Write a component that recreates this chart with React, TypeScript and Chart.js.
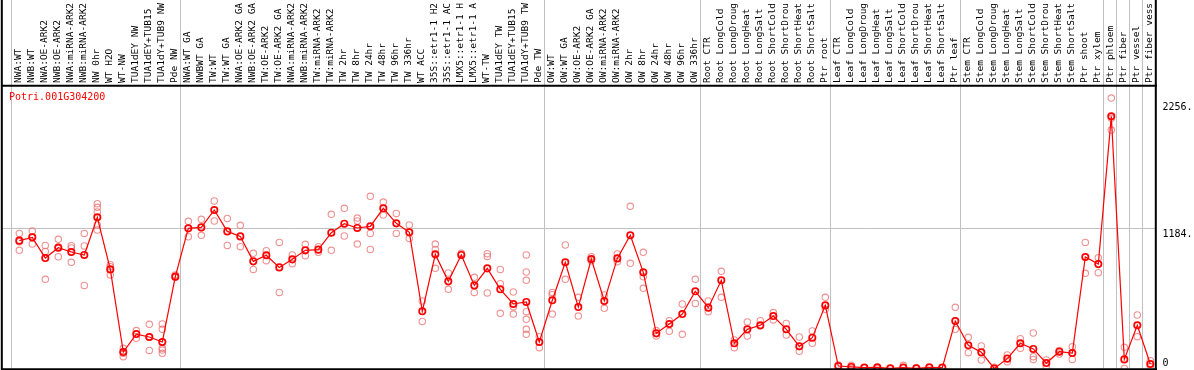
import { useEffect, useRef } from "react";
import { Chart, registerables } from "chart.js";

Chart.register(...registerables);

const geneTitle = "Potri.001G304200";

const categories = [
  "NWA:WT", "NWB:WT", "NWA:OE-ARK2", "NWB:OE-ARK2", "NWA:miRNA-ARK2", "NWB:miRNA-ARK2", "NW 0hr", "WT H2O", "WT-NW", "TUA1dEY NW", "TUA1dEY+TUB15", "TUA1dY+TUB9 NW", "Pde NW",
  "NWA:WT GA", "NWBWT GA", "TW:WT", "TW:WT GA", "NWA:OE-ARK2 GA", "NWB:OE-ARK2 GA", "TW:OE-ARK2", "TW:OE-ARK2 GA", "NWA:miRNA-ARK2", "NWB:miRNA-ARK2", "TW:miRNA-ARK2", "TW:miRNA-ARK2", "TW 2hr", "TW 8hr", "TW 24hr", "TW 48hr", "TW 96hr", "TW 336hr", "WT ACC", "35S::etr1-1 H2", "35S::etr1-1 AC", "LMX5::etr1-1 H", "LMX5::etr1-1 A", "WT-TW", "TUA1dEY TW", "TUA1dEY+TUB15", "TUA1dY+TUB9 TW", "Pde TW",
  "OW:WT", "OW:WT GA", "OW:OE-ARK2", "OW:OE-ARK2 GA", "OW:miRNA-ARK2", "OW:miRNA-ARK2", "OW 2hr", "OW 8hr", "OW 24hr", "OW 48hr", "OW 96hr", "OW 336hr",
  "Root CTR", "Root LongCold", "Root LongDroug", "Root LongHeat", "Root LongSalt", "Root ShortCold", "Root ShortDrou", "Root ShortHeat", "Root ShortSalt", "Ptr root",
  "Leaf CTR", "Leaf LongCold", "Leaf LongDroug", "Leaf LongHeat", "Leaf LongSalt", "Leaf ShortCold", "Leaf ShortDrou", "Leaf ShortHeat", "Leaf ShortSalt", "Ptr leaf",
  "Stem CTR", "Stem LongCold", "Stem LongDroug", "Stem LongHeat", "Stem LongSalt", "Stem ShortCold", "Stem ShortDrou", "Stem ShortHeat", "Stem ShortSalt", "Ptr shoot", "Ptr xylem",
  "Ptr phloem", "Ptr fiber", "Ptr vessel", "Ptr fiber vess",
];

const groupSizes = [13, 28, 12, 10, 10, 11, 1, 1, 1, 1];

const meanValues = [
  1080, 1108, 933, 1020, 984, 959, 1277, 837, 139, 291, 266, 224, 776,
  1184, 1192, 1339, 1158, 1116, 905, 956, 854, 922, 998, 1004, 1147, 1223, 1187, 1201, 1353, 1226, 1150, 483, 964, 736, 959, 702, 846, 669, 545, 562, 224,
  576, 897, 519, 925, 570, 930, 1125, 812, 297, 376, 460, 652,
  514, 745, 213, 331, 365, 443, 331, 187, 260, 533,
  21, 13, 7, 10, 1, 7, 1, 10, 7, 401,
  196, 137, 0, 83, 213, 165, 46, 142, 131, 942, 882,
  2130, 77, 365, 38,
];

const replicateValues = [
  [1141, 1071, 998], [1161, 1113, 1051], [1040, 989, 753], [1091, 1029, 944], [1037, 1018, 897], [1141, 1035, 702],
  [1392, 1361, 1322, 1212, 1170], [877, 860, 790], [170, 128, 100], [320, 255], [373, 266, 153], [376, 331, 170, 156, 128], [790, 770],
  [1243, 1113], [1260, 1125], [1415, 1246], [1268, 1040], [1209, 1029], [973, 837], [995, 911], [1065, 643], [959, 885], [1049, 953],
  [1029, 981], [1302, 998], [1353, 1119], [1271, 1246, 1051], [1454, 1141, 1006], [1406, 1296], [1310, 1141], [1212, 1099], [570, 398],
  [1051, 1006, 846], [807, 669], [973], [770, 643], [970, 947, 638], [837, 716, 466], [646, 522, 460], [959, 815, 745, 480, 415, 331, 289], [269, 176],
  [643, 624, 460], [1043, 753], [601, 443], [944, 911], [621, 508], [967, 902], [1370, 888], [981, 775, 677], [320, 274], [404, 314], [545, 289], [753, 550],
  [570, 480], [821, 601], [241, 176], [393, 274], [404, 359], [472, 410], [381, 283], [266, 145], [317, 213], [601, 500],
  [30], [27, 1], [7], [1], [0], [27], [7], [7], [7], [517, 331],
  [263, 134], [190, 72], [0, 10], [114, 58], [252, 170], [300, 100, 77], [72, 15], [151, 122], [184, 77], [1065, 804], [936, 809],
  [2284, 2113, 2014], [179, 0], [452, 269], [66, 15],
];

const yTickValues = [0, 1184, 2256];
const yTickLabels = ["0", "1184.", "2256."];
const yGridValues = [1184];
const yMax = 2382;
const xMin = -1.331;
const xMax = 87.438;

const MONO = '"DejaVu Sans Mono", monospace';

export default function App() {
  const ref = useRef<HTMLCanvasElement>(null);

  useEffect(() => {
    document.body.style.margin = "0";
    const canvas = ref.current;
    if (!canvas) return;

    const overlay = {
      id: "overlay",
      beforeDatasetsDraw(chart: any) {
        const { ctx, chartArea, scales } = chart;
        const x = scales.x;
        const y = scales.y;
        ctx.save();
        ctx.strokeStyle = "#c0c0c0";
        ctx.lineWidth = 1;
        for (const v of yGridValues) {
          const gy = Math.round(y.getPixelForValue(v)) + 0.5;
          ctx.beginPath();
          ctx.moveTo(chartArea.left, gy);
          ctx.lineTo(chartArea.right, gy);
          ctx.stroke();
        }
        let s = 0;
        for (const g of groupSizes) {
          const px = Math.round(x.getPixelForValue(s - 0.5) - 1.5) + 0.5;
          ctx.beginPath();
          ctx.moveTo(px, 0);
          ctx.lineTo(px, chartArea.bottom);
          ctx.stroke();
          s += g;
        }
        ctx.restore();
      },
      afterDraw(chart: any) {
        const { ctx, chartArea, scales } = chart;
        const x = scales.x;
        const y = scales.y;
        ctx.save();
        ctx.fillStyle = "#000";
        ctx.font = `9.5px ${MONO}`;
        ctx.textAlign = "left";
        ctx.textBaseline = "alphabetic";
        categories.forEach((lab, i) => {
          const px = x.getPixelForValue(i);
          ctx.save();
          ctx.translate(px + 1.5, chartArea.top - 3.5);
          ctx.rotate(-Math.PI / 2);
          ctx.fillText(lab, 0, 0);
          ctx.restore();
        });
        ctx.fillStyle = "#ff0000";
        ctx.font = `10px ${MONO}`;
        ctx.fillText(geneTitle, 9, chartArea.top + 13.5);
        ctx.fillStyle = "#000";
        yTickValues.forEach((v, i) => {
          const py = y.getPixelForValue(v);
          const by = Math.min(py + 8.6, chartArea.bottom - 2.2);
          ctx.fillText(yTickLabels[i], chartArea.right + 6.5, by);
        });
        ctx.strokeStyle = "#000";
        ctx.lineWidth = 2;
        ctx.beginPath();
        ctx.moveTo(chartArea.left - 0.2, 0);
        ctx.lineTo(chartArea.left - 0.2, chartArea.bottom + 1.7);
        ctx.moveTo(chartArea.right - 0.2, 0);
        ctx.lineTo(chartArea.right - 0.2, chartArea.bottom + 1.7);
        ctx.moveTo(chartArea.left - 1, chartArea.top - 0.8);
        ctx.lineTo(chartArea.right + 1, chartArea.top - 0.8);
        ctx.moveTo(chartArea.left - 1, chartArea.bottom + 0.7);
        ctx.lineTo(chartArea.right + 1, chartArea.bottom + 0.7);
        ctx.stroke();
        ctx.restore();
      },
    };

    const meanData = meanValues.map((v, i) => ({ x: i, y: v }));
    const repData = replicateValues.flatMap((arr, i) => arr.map((v) => ({ x: i, y: v })));

    const chart = new Chart(canvas, {
      type: "line",
      data: {
        datasets: [
          {
            label: "mean",
            data: meanData,
            borderColor: "#ff0000",
            borderWidth: 1.2,
            pointStyle: "circle",
            pointRadius: 3.2,
            pointBorderWidth: 1.7,
            pointBorderColor: "#ff0000",
            pointBackgroundColor: "rgba(0,0,0,0)",
            fill: false,
            tension: 0,
            clip: false,
          } as any,
          {
            label: "replicates",
            data: repData,
            showLine: false,
            borderColor: "rgba(232,110,110,0.75)",
            pointStyle: "circle",
            pointRadius: 3.2,
            pointBorderWidth: 1.1,
            pointBorderColor: "rgba(232,110,110,0.75)",
            pointBackgroundColor: "rgba(0,0,0,0)",
            clip: false,
          } as any,
        ],
      },
      options: {
        animation: false,
        responsive: false,
        devicePixelRatio: 1,
        layout: { autoPadding: false, padding: { top: 86.5, left: 2, right: 38, bottom: 1.5 } },
        plugins: { legend: { display: false }, tooltip: { enabled: false } },
        scales: {
          x: { type: "linear", min: xMin, max: xMax, display: false },
          y: { type: "linear", min: 0, max: yMax, display: false },
        },
      },
      plugins: [overlay],
    });

    return () => chart.destroy();
  }, []);

  return <canvas ref={ref} width={1194} height={370} style={{ display: "block" }} />;
}
